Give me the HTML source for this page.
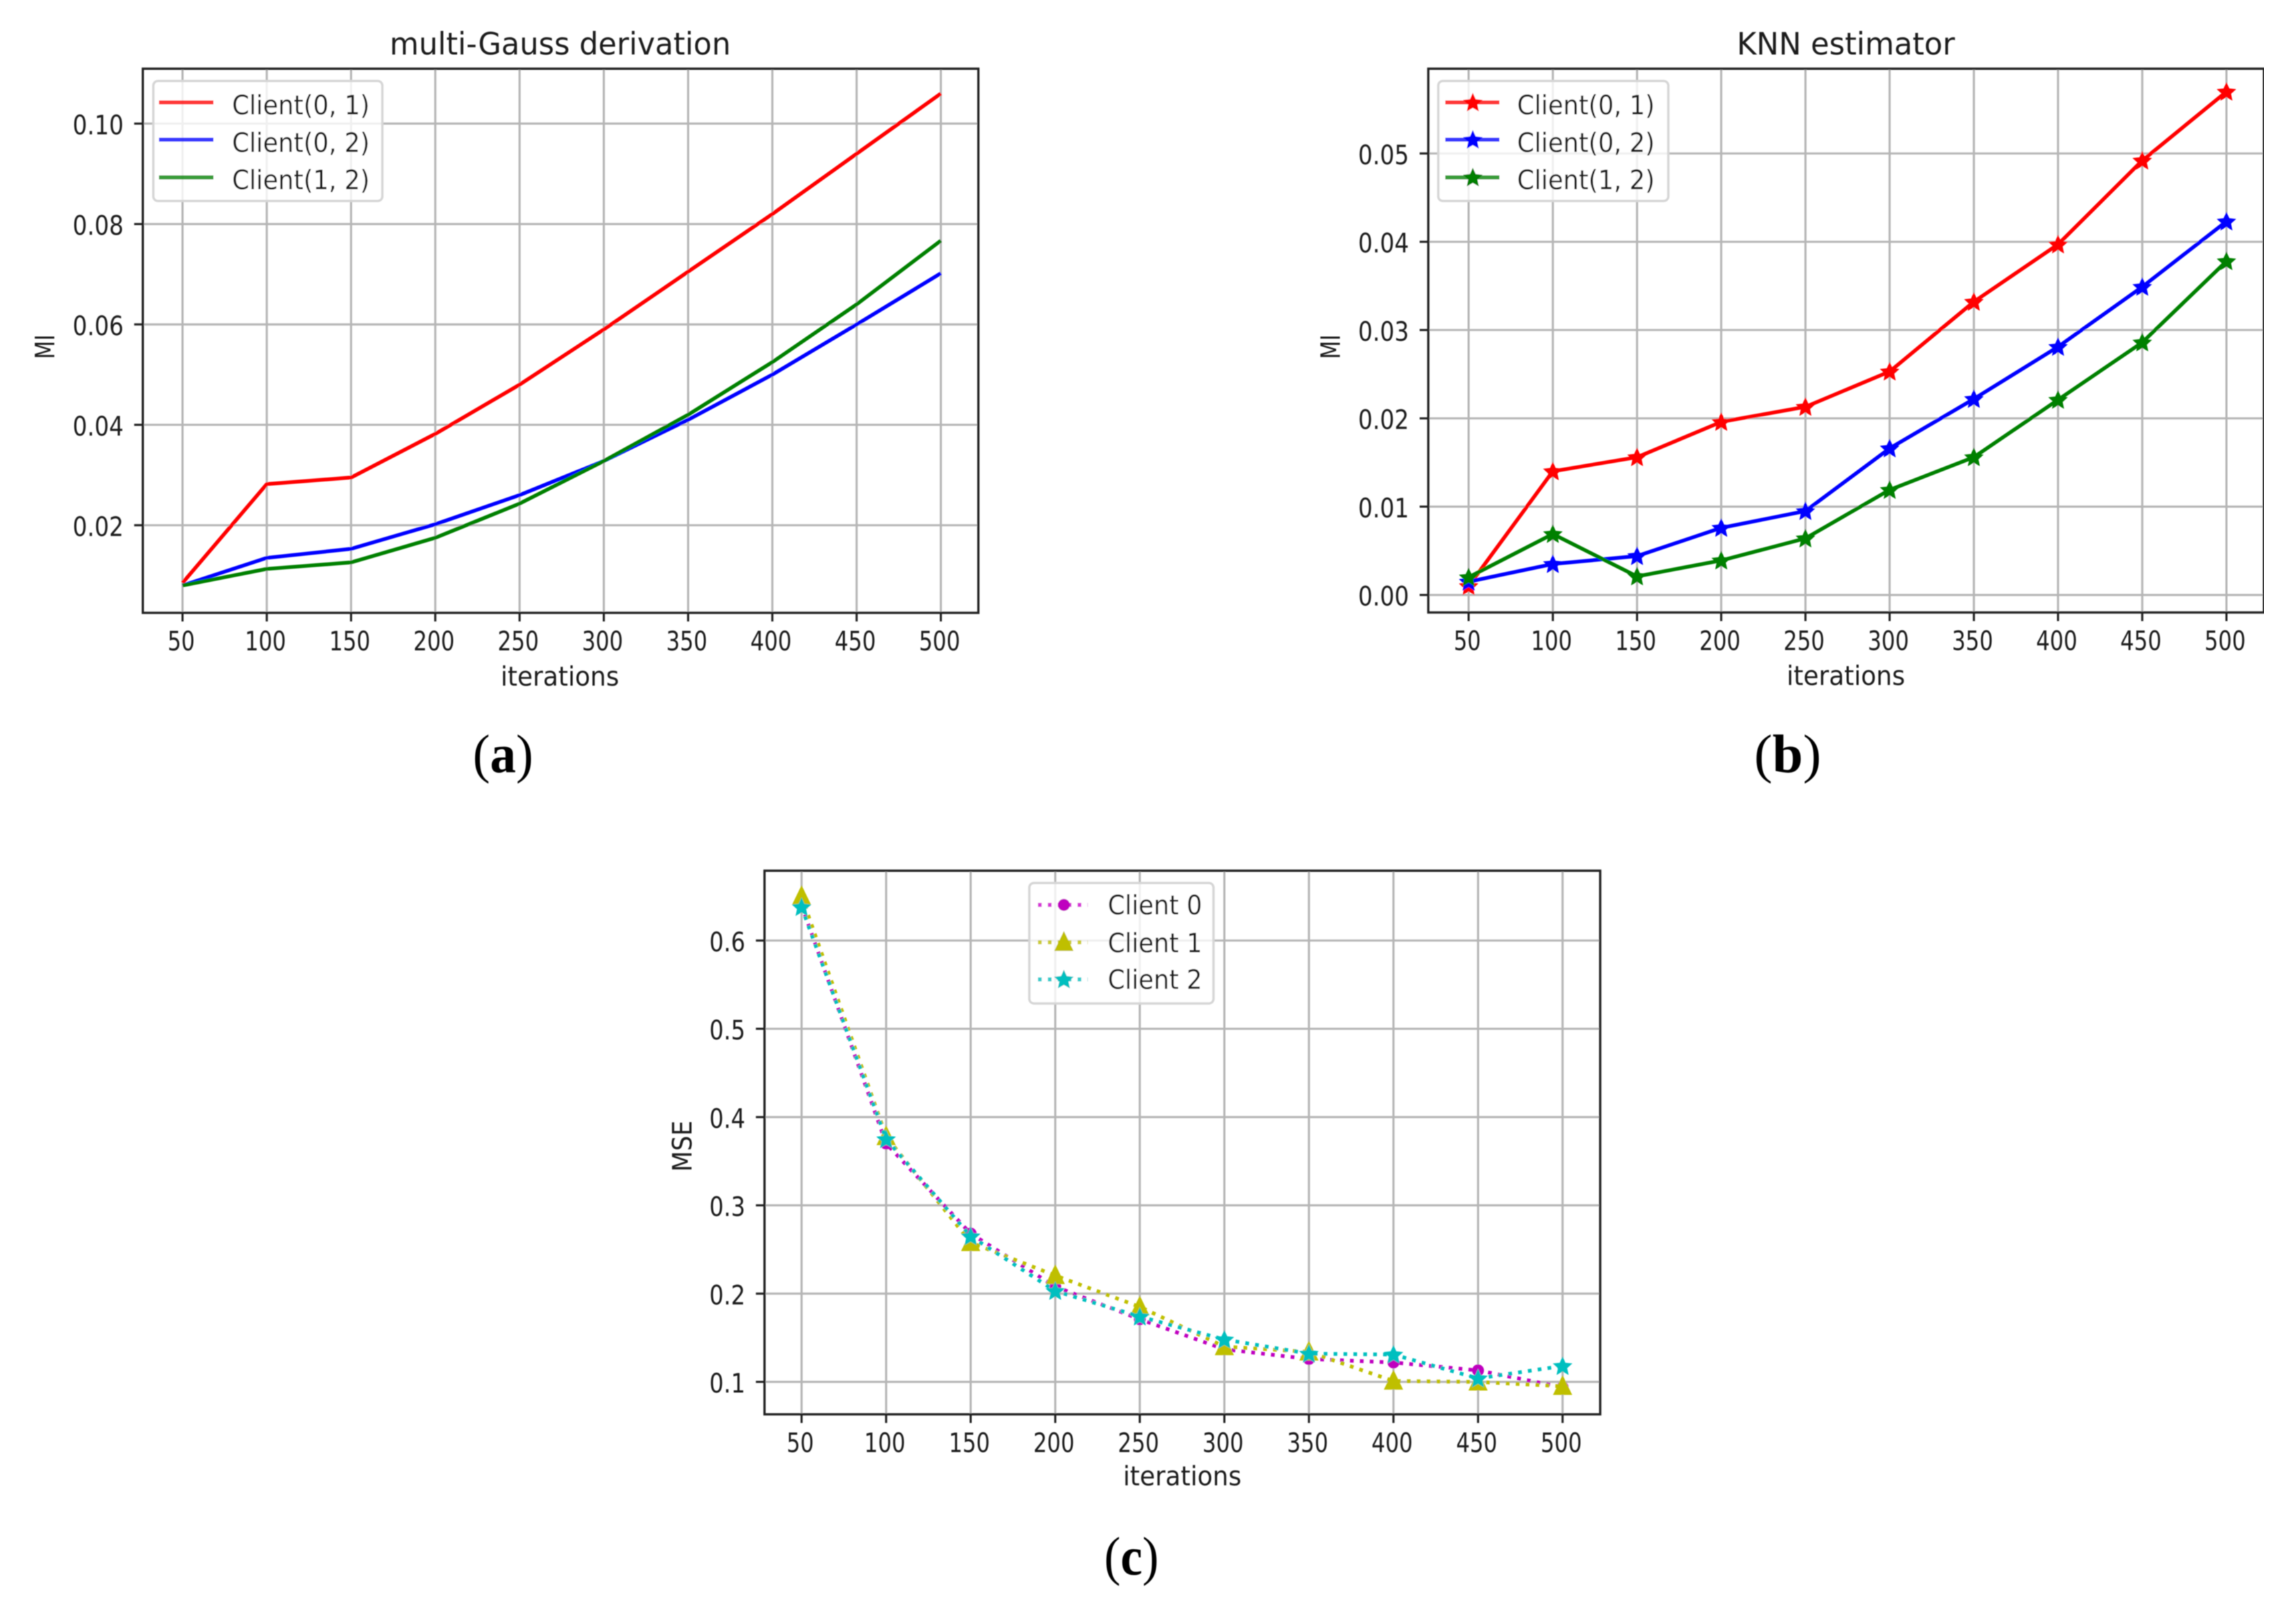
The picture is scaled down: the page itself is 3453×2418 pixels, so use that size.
<!DOCTYPE html>
<html lang="en">
<head>
<meta charset="utf-8">
<title>MI and MSE charts</title>
<style>
html,body{margin:0;padding:0;background:#fff;width:3453px;height:2418px;overflow:hidden}
svg{display:block}
text{font-family:"DejaVu Sans","Liberation Sans",sans-serif;fill:#1a1a1a}
.tick{font-size:40px}
.axis{font-size:40px}
.title{font-size:46px}
.leg{font-size:40px}
.cap{font-family:"Liberation Serif",serif;font-size:82px;fill:#000}
.cap .letter{font-weight:bold}
.legbox{fill:#fff;fill-opacity:.8;stroke:#d6d6d6;stroke-width:3.5}
</style>
</head>
<body>
<svg id="figure" xmlns="http://www.w3.org/2000/svg" width="3453" height="2418" viewBox="0 0 3453 2418">
<defs><filter id="soft" x="0" y="0" width="100%" height="100%"><feGaussianBlur stdDeviation="0.9"/></filter></defs>
<rect width="3453" height="2418" fill="#fff"/>
<g filter="url(#soft)">

<g>
  <g id="plot-a"></g>
  <g>
    <rect class="legbox" x="230.6" y="121.7" width="344.4" height="180.6" rx="7"/>
    <line x1="239" x2="321" y1="154" y2="154" stroke="#f00" stroke-opacity=".78" stroke-width="6"/>
    <line x1="239" x2="321" y1="210" y2="210" stroke="#00f" stroke-opacity=".78" stroke-width="6"/>
    <line x1="239" x2="321" y1="266.7" y2="266.7" stroke="#008000" stroke-opacity=".78" stroke-width="6"/>
    <text class="leg" x="349" y="172" textLength="207" lengthAdjust="spacingAndGlyphs">Client(0, 1)</text>
    <text class="leg" x="349" y="228.5" textLength="207" lengthAdjust="spacingAndGlyphs">Client(0, 2)</text>
    <text class="leg" x="349" y="284.5" textLength="207" lengthAdjust="spacingAndGlyphs">Client(1, 2)</text>
  </g>
  <text class="title" x="586" y="82" textLength="513" lengthAdjust="spacingAndGlyphs">multi-Gauss derivation</text>
  <text class="axis" x="753" y="1031" textLength="178" lengthAdjust="spacingAndGlyphs">iterations</text>
  <text class="axis" transform="translate(81.6 540) rotate(-90)" textLength="37" lengthAdjust="spacingAndGlyphs">MI</text>
  <text class="cap" x="711" y="1161" textLength="91" lengthAdjust="spacingAndGlyphs">(<tspan class="letter">a</tspan>)</text>
</g>

<g>
  <g id="plot-b"></g>
  <g>
    <rect class="legbox" x="2163" y="121.7" width="346" height="180.6" rx="7"/>
    <line x1="2173.5" x2="2255" y1="154" y2="154" stroke="#f00" stroke-opacity=".78" stroke-width="6"/>
    <line x1="2173.5" x2="2255" y1="210" y2="210" stroke="#00f" stroke-opacity=".78" stroke-width="6"/>
    <line x1="2173.5" x2="2255" y1="266.7" y2="266.7" stroke="#008000" stroke-opacity=".78" stroke-width="6"/>
    <g id="legend-markers-b"></g>
    <text class="leg" x="2281.6" y="172" textLength="207" lengthAdjust="spacingAndGlyphs">Client(0, 1)</text>
    <text class="leg" x="2281.6" y="228.5" textLength="207" lengthAdjust="spacingAndGlyphs">Client(0, 2)</text>
    <text class="leg" x="2281.6" y="284.5" textLength="207" lengthAdjust="spacingAndGlyphs">Client(1, 2)</text>
  </g>
  <text class="title" x="2612" y="82" textLength="328" lengthAdjust="spacingAndGlyphs">KNN estimator</text>
  <text class="axis" x="2687" y="1030" textLength="178" lengthAdjust="spacingAndGlyphs">iterations</text>
  <text class="axis" transform="translate(2015 540) rotate(-90)" textLength="37" lengthAdjust="spacingAndGlyphs">MI</text>
  <text class="cap" x="2638" y="1161" textLength="101" lengthAdjust="spacingAndGlyphs">(<tspan class="letter">b</tspan>)</text>
</g>

<g>
  <g id="plot-c"></g>
  <g>
    <rect class="legbox" x="1548" y="1327.7" width="277" height="181.3" rx="7"/>
    <line x1="1561" x2="1636" y1="1360.7" y2="1360.7" stroke="#c0c" stroke-opacity=".8" stroke-width="6" stroke-dasharray="5.6 9.3"/>
    <line x1="1561" x2="1636" y1="1417" y2="1417" stroke="#bfbf00" stroke-opacity=".8" stroke-width="6" stroke-dasharray="5.6 9.3"/>
    <line x1="1561" x2="1636" y1="1472.7" y2="1472.7" stroke="#00bfbf" stroke-opacity=".8" stroke-width="6" stroke-dasharray="5.6 9.3"/>
    <g id="legend-markers-c"></g>
    <text class="leg" x="1666" y="1375" textLength="142" lengthAdjust="spacingAndGlyphs">Client 0</text>
    <text class="leg" x="1666" y="1432" textLength="142" lengthAdjust="spacingAndGlyphs">Client 1</text>
    <text class="leg" x="1666" y="1487" textLength="142" lengthAdjust="spacingAndGlyphs">Client 2</text>
  </g>
  <text class="axis" x="1689" y="2233.6" textLength="178" lengthAdjust="spacingAndGlyphs">iterations</text>
  <text class="axis" transform="translate(1040 1762) rotate(-90)" textLength="77" lengthAdjust="spacingAndGlyphs">MSE</text>
  <text class="cap" x="1660.6" y="2367.6" textLength="82" lengthAdjust="spacingAndGlyphs">(<tspan class="letter">c</tspan>)</text>
</g>
</g>
</svg>

<script>
// ---- shared categories ----
const iterations = [50, 100, 150, 200, 250, 300, 350, 400, 450, 500];
const xTickLabels = ['50', '100', '150', '200', '250', '300', '350', '400', '450', '500'];

// ---- panel (a) multi-Gauss derivation ----
const gaussTicks = [0.02, 0.04, 0.06, 0.08, 0.10];
const gaussTickLabels = ['0.02', '0.04', '0.06', '0.08', '0.10'];
const gaussClient01 = [0.0085, 0.0282, 0.0295, 0.0382, 0.048, 0.059, 0.0705, 0.082, 0.094, 0.106];
const gaussClient02 = [0.008, 0.0135, 0.0153, 0.0202, 0.026, 0.0328, 0.041, 0.05, 0.06, 0.0702];
const gaussClient12 = [0.008, 0.0113, 0.0126, 0.0175, 0.0243, 0.0328, 0.042, 0.0525, 0.064, 0.0767];

// ---- panel (b) KNN estimator ----
const knnTicks = [0.00, 0.01, 0.02, 0.03, 0.04, 0.05];
const knnTickLabels = ['0.00', '0.01', '0.02', '0.03', '0.04', '0.05'];
const knnClient01 = [0.001, 0.014, 0.0156, 0.0196, 0.0213, 0.0253, 0.0332, 0.0397, 0.0492, 0.057];
const knnClient02 = [0.0015, 0.0035, 0.0044, 0.0076, 0.0095, 0.0166, 0.0222, 0.0281, 0.0349, 0.0423];
const knnClient12 = [0.002, 0.0069, 0.0021, 0.0039, 0.0064, 0.0119, 0.0156, 0.0221, 0.0286, 0.0378];

// ---- panel (c) MSE ----
const mseTicks = [0.1, 0.2, 0.3, 0.4, 0.5, 0.6];
const mseTickLabels = ['0.1', '0.2', '0.3', '0.4', '0.5', '0.6'];
const mseClient0 = [0.64, 0.37, 0.268, 0.208, 0.171, 0.137, 0.126, 0.122, 0.113, 0.094];
const mseClient1 = [0.65, 0.378, 0.258, 0.2205, 0.185, 0.14, 0.134, 0.101, 0.1, 0.095];
const mseClient2 = [0.638, 0.375, 0.265, 0.203, 0.174, 0.148, 0.132, 0.131, 0.104, 0.118];

const NS = 'http://www.w3.org/2000/svg';

function make(parent, tag, attrs, text) {
  const el = document.createElementNS(NS, tag);
  for (const k in attrs) el.setAttribute(k, attrs[k]);
  if (text !== undefined) el.textContent = text;
  parent.appendChild(el);
  return el;
}

function linearScale(d0, d1, r0, r1) {
  return function (v) { return r0 + (v - d0) * (r1 - r0) / (d1 - d0); };
}

function starPoints(cx, cy, r) {
  const pts = [];
  for (let i = 0; i < 10; i++) {
    const rad = i % 2 === 0 ? r : r * 0.47;
    const a = -Math.PI / 2 + i * Math.PI / 5;
    pts.push((cx + rad * Math.cos(a)).toFixed(1) + ',' + (cy + rad * Math.sin(a)).toFixed(1));
  }
  return pts.join(' ');
}

function drawMarker(parent, kind, cx, cy, color, name) {
  let el;
  if (kind === 'star') {
    el = make(parent, 'polygon', { points: starPoints(cx, cy + 1, 15.5), fill: color });
  } else if (kind === 'tri') {
    el = make(parent, 'polygon', {
      points: cx + ',' + (cy - 17) + ' ' + (cx + 14.5) + ',' + (cy + 13) + ' ' + (cx - 14.5) + ',' + (cy + 13),
      fill: color
    });
  } else {
    el = make(parent, 'circle', { cx: cx, cy: cy, r: 9, fill: color });
  }
  
  
}

function drawPanel(p) {
  const g = document.getElementById(p.id);
  const x = linearScale(50, 500, p.x0, p.x1);
  const y = linearScale(p.d0, p.d1, p.y0, p.y1);
  const box = p.box;

  // grid and ticks, x axis
  iterations.forEach(function (v, i) {
    const px = x(v);
    const grid = make(g, 'line', { x1: px, x2: px, y1: box.top, y2: box.bottom, stroke: '#b6b6b6', 'stroke-width': 3.2 });
    
    
    const tick = make(g, 'line', { x1: px, x2: px, y1: box.bottom, y2: box.bottom + 13, stroke: '#222', 'stroke-width': 3.2 });
    
    
    const label = xTickLabels[i];
    const w = label.length === 2 ? 41 : 62;
    const t = make(g, 'text', {
      class: 'tick', x: px - 2 - w / 2, y: box.bottom + 56.5,
      textLength: w, lengthAdjust: 'spacingAndGlyphs'
    }, label);
    
    
  });

  // grid and ticks, y axis
  p.ticks.forEach(function (v, i) {
    const py = y(v);
    const grid = make(g, 'line', { x1: box.left, x2: box.right, y1: py, y2: py, stroke: '#b6b6b6', 'stroke-width': 3.2 });
    
    
    const tick = make(g, 'line', { x1: box.left - 13, x2: box.left, y1: py, y2: py, stroke: '#222', 'stroke-width': 3.2 });
    
    
    const label = p.tickLabels[i];
    const w = label.length === 3 ? 54 : 76.5;
    const t = make(g, 'text', {
      class: 'tick', x: box.left - 29 - w, y: py + 16,
      textLength: w, lengthAdjust: 'spacingAndGlyphs'
    }, label);
    
    
  });

  // series lines then markers
  p.series.forEach(function (s) {
    const pts = s.values.map(function (v, i) { return x(iterations[i]).toFixed(1) + ',' + y(v).toFixed(1); }).join(' ');
    const attrs = { points: pts, fill: 'none', stroke: s.color, 'stroke-width': 5.6, 'stroke-linejoin': 'round' };
    if (s.dotted) attrs['stroke-dasharray'] = '5.6 9.3';
    const line = make(g, 'polyline', attrs);
    
    
    if (s.marker) {
      s.values.forEach(function (v, i) {
        drawMarker(g, s.marker, x(iterations[i]), y(v), s.color, p.key + '-point-' + s.name + '-' + iterations[i]);
      });
    }
  });

  // frame
  const frame = make(g, 'rect', {
    x: box.left, y: box.top, width: box.right - box.left, height: box.bottom - box.top,
    fill: 'none', stroke: '#222', 'stroke-width': 3.4
  });
  
  
}

drawPanel({
  key: 'a', id: 'plot-a',
  box: { left: 214.8, right: 1471.4, top: 103.3, bottom: 921.5 },
  x0: 274.5, x1: 1415, d0: 0.02, d1: 0.10, y0: 789.8, y1: 185.9,
  ticks: gaussTicks, tickLabels: gaussTickLabels,
  series: [
    { name: 'client-0-1', values: gaussClient01, color: '#ff0000' },
    { name: 'client-0-2', values: gaussClient02, color: '#0000ff' },
    { name: 'client-1-2', values: gaussClient12, color: '#008000' }
  ]
});

drawPanel({
  key: 'b', id: 'plot-b',
  box: { left: 2148, right: 3404.7, top: 103.3, bottom: 921 },
  x0: 2208.7, x1: 3348.4, d0: 0, d1: 0.05, y0: 894.6, y1: 230.8,
  ticks: knnTicks, tickLabels: knnTickLabels,
  series: [
    { name: 'client-0-1', values: knnClient01, color: '#ff0000', marker: 'star' },
    { name: 'client-0-2', values: knnClient02, color: '#0000ff', marker: 'star' },
    { name: 'client-1-2', values: knnClient12, color: '#008000', marker: 'star' }
  ]
});

drawPanel({
  key: 'c', id: 'plot-c',
  box: { left: 1149.8, right: 2406.6, top: 1309.3, bottom: 2126.8 },
  x0: 1205.5, x1: 2350, d0: 0.1, d1: 0.6, y0: 2078, y1: 1414.3,
  ticks: mseTicks, tickLabels: mseTickLabels,
  series: [
    { name: 'client-0', values: mseClient0, color: '#bf00bf', marker: 'dot', dotted: true },
    { name: 'client-1', values: mseClient1, color: '#bfbf00', marker: 'tri', dotted: true },
    { name: 'client-2', values: mseClient2, color: '#00bfbf', marker: 'star', dotted: true }
  ]
});

// legend markers
const legendB = document.getElementById('legend-markers-b');
drawMarker(legendB, 'star', 2215, 154, '#ff0000', 'legend-marker-b-01');
drawMarker(legendB, 'star', 2215, 210, '#0000ff', 'legend-marker-b-02');
drawMarker(legendB, 'star', 2215, 266.7, '#008000', 'legend-marker-b-12');
const legendC = document.getElementById('legend-markers-c');
drawMarker(legendC, 'dot', 1600, 1360.7, '#bf00bf', 'legend-marker-c-0');
drawMarker(legendC, 'tri', 1600, 1417, '#bfbf00', 'legend-marker-c-1');
drawMarker(legendC, 'star', 1600, 1472.7, '#00bfbf', 'legend-marker-c-2');
</script>
</body>
</html>
